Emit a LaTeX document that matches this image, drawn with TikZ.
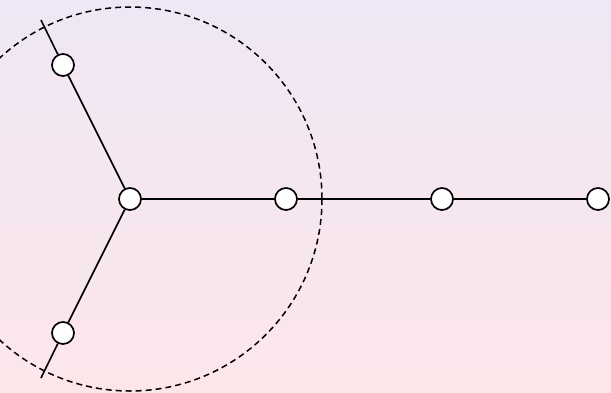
\documentclass[tikz,border=0pt]{standalone}
\usepackage{tikz}
\usetikzlibrary{calc}
\definecolor{lavtop}{HTML}{EFE7F5}
\definecolor{pinkbot}{HTML}{FCE6EA}
\tikzset{
  vertex/.style={circle,draw=black,line width=1.7pt,fill=white,minimum size=22pt,inner sep=0pt},
  edge/.style={line width=1.6pt,draw=black},
  region/.style={line width=1.5pt,dash pattern=on 6pt off 4pt,draw=black}
}
\begin{document}
\begin{tikzpicture}[x=1pt,y=-1pt]
  \shade[top color=lavtop,bottom color=pinkbot] (0,0) rectangle (611,392);
  \useasboundingbox (0,0) rectangle (611,392);

  \draw[region] (130,199) circle[radius=192];

  \node[vertex] (hub) at (130,199) {};
  \node[vertex] (up) at (63,65) {};
  \node[vertex] (down) at (63,333) {};
  \node[vertex] (r1) at (286,199) {};
  \node[vertex] (r2) at (442,199) {};
  \node[vertex] (r3) at (598,199) {};
  \coordinate (uptip) at (41,20);
  \coordinate (downtip) at (41,378);

  \draw[edge] (hub) -- (up);
  \draw[edge] (up) -- (uptip);
  \draw[edge] (hub) -- (down);
  \draw[edge] (down) -- (downtip);
  \draw[edge] (hub) -- (r1);
  \draw[edge] (r1) -- (r2);
  \draw[edge] (r2) -- (r3);
\end{tikzpicture}
\end{document}
